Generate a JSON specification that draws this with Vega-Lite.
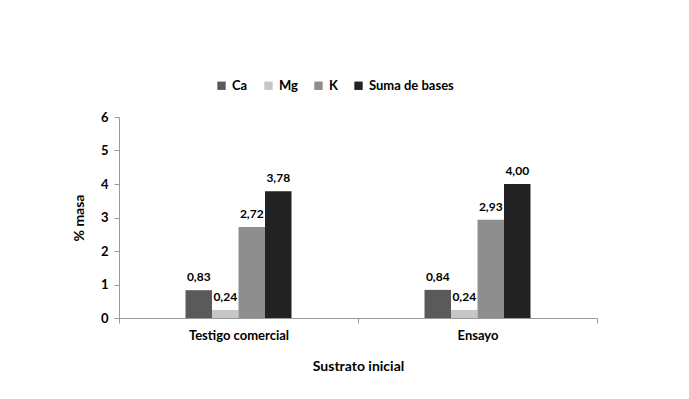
{
  "$schema": "https://vega.github.io/schema/vega-lite/v6.json",
  "width": 478,
  "height": 201,
  "autosize": "none",
  "padding": {"left": 119, "top": 117, "right": 92, "bottom": 81},
  "background": "white",
  "config": {
    "view": {"stroke": null},
    "font": "Lato",
    "locale": {"number": {"decimal": ",", "thousands": ".", "grouping": [3], "currency": ["", ""]}}
  },
  "data": {
    "values": [
      {"sustrato": "Testigo comercial", "serie": "Ca", "valor": 0.83},
      {"sustrato": "Testigo comercial", "serie": "Mg", "valor": 0.24},
      {"sustrato": "Testigo comercial", "serie": "K", "valor": 2.72},
      {"sustrato": "Testigo comercial", "serie": "Suma de bases", "valor": 3.78},
      {"sustrato": "Ensayo", "serie": "Ca", "valor": 0.84},
      {"sustrato": "Ensayo", "serie": "Mg", "valor": 0.24},
      {"sustrato": "Ensayo", "serie": "K", "valor": 2.93},
      {"sustrato": "Ensayo", "serie": "Suma de bases", "valor": 4.00}
    ]
  },
  "encoding": {
    "x": {
      "field": "sustrato", "type": "nominal", "sort": ["Testigo comercial", "Ensayo"],
      "scale": {"paddingInner": 0, "paddingOuter": 0},
      "title": "Sustrato inicial",
      "axis": {
        "tickBand": "extent", "labelAngle": 0, "domainColor": "#999999", "tickColor": "#999999",
        "tickSize": 5, "labelFont": "Lato", "labelFontWeight": "bold", "labelFontSize": 13,
        "labelColor": "#000000", "labelPadding": 6, "titleFont": "Lato", "titleFontWeight": "bold",
        "titleFontSize": 14, "titleColor": "#000000", "titlePadding": 17
      }
    },
    "xOffset": {
      "field": "serie", "type": "nominal", "sort": ["Ca", "Mg", "K", "Suma de bases"],
      "scale": {"range": [66.5, 172.5], "paddingInner": 0, "paddingOuter": 0}
    },
    "y": {
      "field": "valor", "type": "quantitative",
      "scale": {"domain": [0, 6], "nice": false},
      "title": "% masa",
      "axis": {
        "values": [0, 1, 2, 3, 4, 5, 6], "format": "d", "grid": false,
        "domainColor": "#999999", "tickColor": "#999999", "tickSize": 5,
        "labelFont": "Lato", "labelFontWeight": "bold", "labelFontSize": 13, "labelColor": "#000000",
        "labelPadding": 6, "titleFont": "Lato", "titleFontWeight": "bold", "titleFontSize": 14,
        "titleColor": "#000000", "titlePadding": 14
      }
    }
  },
  "layer": [
    {
      "mark": {"type": "bar"},
      "encoding": {
        "color": {
          "field": "serie", "type": "nominal", "sort": ["Ca", "Mg", "K", "Suma de bases"],
          "scale": {"domain": ["Ca", "Mg", "K", "Suma de bases"], "range": ["#5a5a5a", "#c6c6c6", "#8e8e8e", "#222222"]},
          "legend": {
            "title": null, "orient": "none", "direction": "horizontal", "legendX": 96, "legendY": -38,
            "symbolType": "square", "symbolSize": 70, "symbolStrokeWidth": 0, "labelFont": "Lato",
            "labelFontWeight": "bold", "labelFontSize": 13, "labelColor": "#000000",
            "columnPadding": 14, "labelOffset": 4
          }
        }
      }
    },
    {
      "mark": {"type": "text", "baseline": "bottom", "dy": -6, "font": "Lato", "fontWeight": "bold", "fontSize": 12, "color": "#000000"},
      "encoding": {
        "text": {"field": "valor", "type": "quantitative", "format": ".2f"}
      }
    }
  ]
}
